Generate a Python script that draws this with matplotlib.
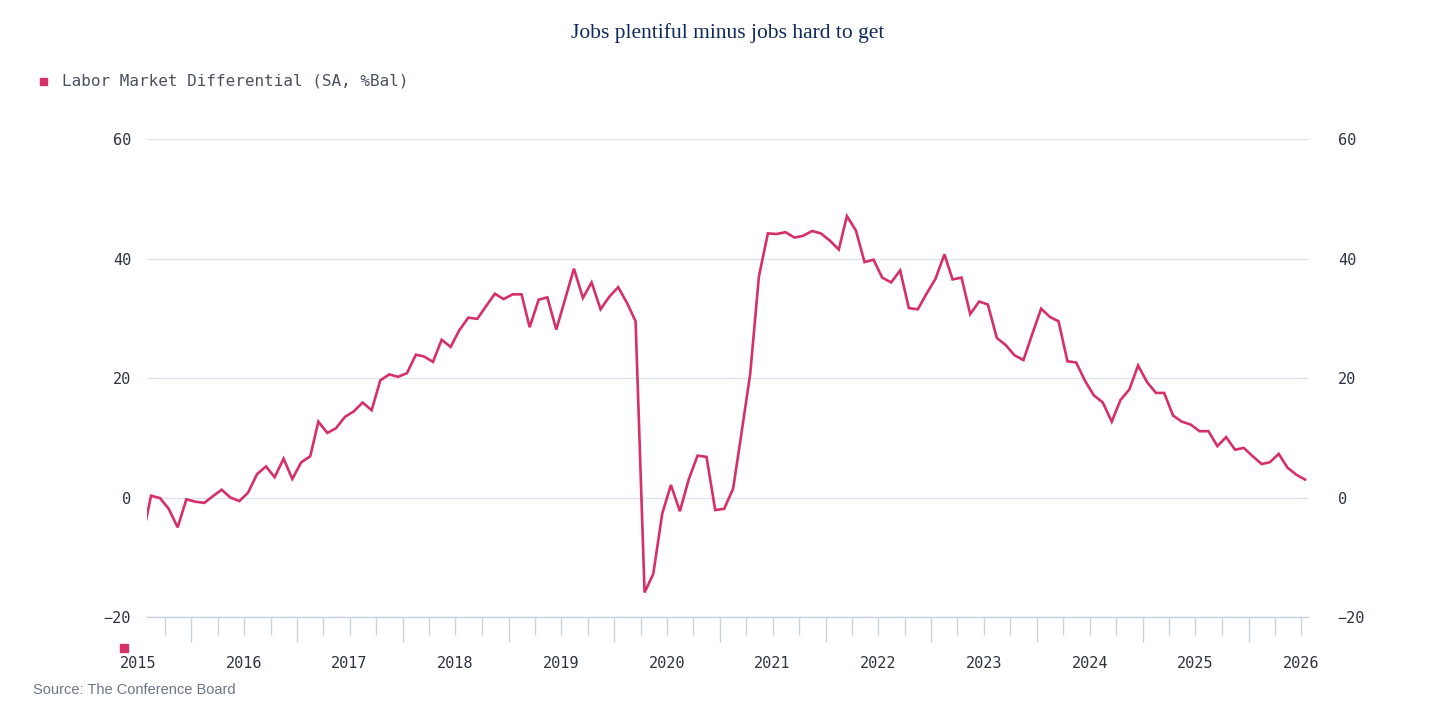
import pandas as pd
import matplotlib
matplotlib.use("Agg")
import matplotlib.pyplot as plt
import matplotlib.dates as mdates

# monthly series, points plotted mid-month
start_month = "2015-07-01"
differential = [
    -7.0, 0.3, -0.1, -1.9, -5.0, -0.3, -0.7, -0.9, 0.2, 1.3, 0.0, -0.6,
    0.8, 3.9, 5.2, 3.4, 6.5, 3.1, 5.9, 6.9, 12.7, 10.8, 11.6, 13.5,
    14.4, 15.9, 14.6, 19.6, 20.6, 20.2, 20.8, 23.9, 23.6, 22.7, 26.4, 25.2,
    28.0, 30.1, 29.9, 32.0, 34.1, 33.2, 34.0, 34.0, 28.5, 33.1, 33.5, 28.1,
    33.1, 38.3, 33.4, 36.0, 31.5, 33.6, 35.2, 32.5, 29.5, -15.9, -12.8, -2.7,
    2.1, -2.3, 3.1, 7.0, 6.8, -2.1, -1.9, 1.5, 10.5, 20.7, 37.0, 44.2,
    44.1, 44.4, 43.5, 43.8, 44.6, 44.2, 43.0, 41.5, 47.1, 44.7, 39.4, 39.8,
    36.8, 36.0, 38.0, 31.7, 31.5, 34.1, 36.6, 40.7, 36.5, 36.8, 30.7, 32.8,
    32.3, 26.7, 25.5, 23.8, 23.0, 27.3, 31.6, 30.2, 29.5, 22.8, 22.6, 19.5,
    17.1, 15.9, 12.7, 16.3, 18.1, 22.1, 19.3, 17.5, 17.5, 13.7, 12.7, 12.2,
    11.1, 11.1, 8.6, 10.1, 8.0, 8.3, 6.9, 5.6, 5.9, 7.3, 5.0, 3.8,
    3.0,
]
year_labels = list(range(2015, 2027))
y_ticks = [-20, 0, 20, 40, 60]

dates = pd.date_range(start_month, periods=len(differential), freq="MS") + pd.Timedelta(days=14)

line_color = "#d6306a"
grid_color = "#dde3eb"
axis_color = "#c8d3e0"
label_color = "#2b3342"

fig = plt.figure(figsize=(14.56, 7.14), dpi=100)
ax = fig.add_axes([147 / 1456, 1 - 617 / 714, (1308 - 147) / 1456, (617 - 139) / 714])

ax.plot(dates, differential, color=line_color, lw=1.9, solid_joinstyle="miter", zorder=3)

ax.set_xlim(pd.Timestamp("2015-08-01"), pd.Timestamp("2026-07-25"))
ax.set_ylim(-20, 60)

fmt = plt.FuncFormatter(lambda v, p: f"{int(v)}".replace("-", "\u2212"))

for s in ["top", "left", "right"]:
    ax.spines[s].set_visible(False)
ax.spines["bottom"].set_color(axis_color)
ax.spines["bottom"].set_linewidth(1.0)

ax.set_yticks(y_ticks)
ax.yaxis.set_major_formatter(fmt)
ax.yaxis.grid(True, color=grid_color, lw=1.0)
ax.set_axisbelow(True)
ax.tick_params(axis="y", length=0, labelsize=11, labelcolor=label_color, pad=11.5)

# right-hand copy of the value labels
ax2 = ax.twinx()
ax2.set_ylim(ax.get_ylim())
ax2.set_yticks(y_ticks)
ax2.yaxis.set_major_formatter(fmt)
ax2.tick_params(axis="y", length=0, labelsize=11, labelcolor=label_color, pad=21.5)
for s in ax2.spines.values():
    s.set_visible(False)
for lab in ax.get_yticklabels() + ax2.get_yticklabels():
    lab.set_fontfamily("DejaVu Sans Mono")

# quarterly ticks, longer ones at each new year
ax.xaxis.set_major_locator(mdates.YearLocator())
ax.xaxis.set_minor_locator(mdates.MonthLocator(bymonth=[4, 7, 10]))
ax.tick_params(axis="x", which="major", length=18, color=axis_color, width=1.0, labelbottom=False)
ax.tick_params(axis="x", which="minor", length=13, color=axis_color, width=1.0)

# year labels centred on mid-year
for yr in year_labels:
    ax.text(pd.Timestamp(f"{yr}-07-01"), -0.0965, str(yr), transform=ax.get_xaxis_transform(),
            ha="center", va="center", fontsize=11, color=label_color,
            family="DejaVu Sans Mono", clip_on=False)

fig.text(0.5, 1 - 33 / 714, "Jobs plentiful minus jobs hard to get", ha="center", va="center",
         fontsize=15.5, color="#0f2a5c", family="Liberation Serif")

fig.patches.append(plt.Rectangle((40 / 1456, 1 - 85 / 714), 7 / 1456, 7 / 714,
                                 transform=fig.transFigure, color=line_color))
fig.text(62 / 1456, 1 - 81 / 714, "Labor Market Differential (SA, %Bal)", ha="left", va="center",
         fontsize=11.5, color="#4b5361", family="DejaVu Sans Mono")

fig.patches.append(plt.Rectangle((120 / 1456, 1 - 652 / 714), 8 / 1456, 8 / 714,
                                 transform=fig.transFigure, color=line_color))

fig.text(33 / 1456, 1 - 690 / 714, "Source: The Conference Board", ha="left", va="center",
         fontsize=10.5, color="#6b768a", family="Liberation Sans")

fig.savefig("out.png", dpi=100, facecolor="white")
